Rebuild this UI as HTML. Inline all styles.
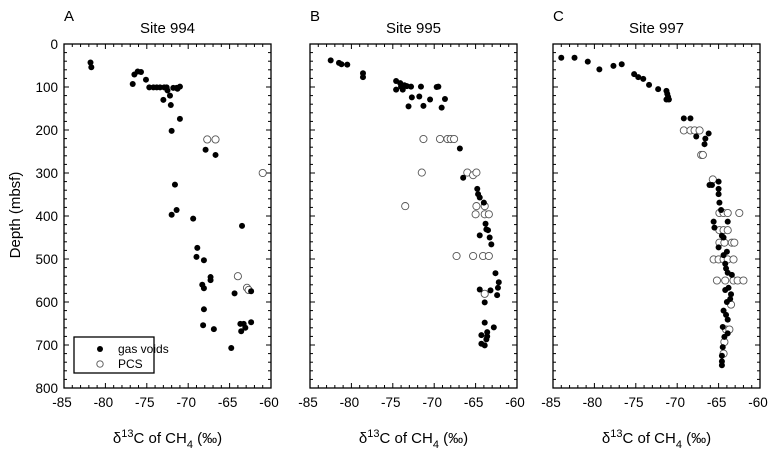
<!DOCTYPE html>
<html><head><meta charset="utf-8"><style>
html,body{margin:0;padding:0;background:#fff;}
svg{display:block;font-family:"Liberation Sans",Arial,sans-serif;}
</style></head><body>
<svg id="chart" width="779" height="456" viewBox="0 0 779 456"></svg>
<script>
const xTicks=[-85,-80,-75,-70,-65,-60];
const yTicks=[0,100,200,300,400,500,600,700,800];
const panelLetters=["A","B","C"];
const siteNames=["Site 994","Site 995","Site 997"];
const gasA=[[-81.8,43],[-81.7,54],[-76.7,93],[-76.5,71],[-76.1,64],[-75.7,65],[-75.1,83],[-74.7,101],[-74.2,101],[-73.8,101],[-73.4,101],[-72.9,101],[-72.6,101],[-73.0,130],[-72.5,108],[-72.2,120],[-72.1,142],[-71.8,102],[-71.4,102],[-71.0,99],[-71.3,104],[-71.0,174],[-72.0,202],[-67.9,246],[-66.7,258],[-71.6,327],[-71.4,386],[-72.0,397],[-69.4,406],[-63.5,423],[-68.9,474],[-69.0,495],[-68.1,503],[-67.3,542],[-67.3,549],[-68.3,560],[-68.1,568],[-64.4,580],[-62.4,575],[-68.1,617],[-68.2,654],[-66.9,663],[-64.8,707],[-63.7,651],[-63.3,651],[-63.1,660],[-63.6,668],[-62.4,647]];
const pcsA=[[-67.7,222],[-66.7,222],[-64.0,540],[-62.9,567],[-62.7,572],[-61.0,300]];
const gasB=[[-82.5,38],[-81.5,44],[-81.2,47],[-80.5,48],[-78.6,68],[-78.6,77],[-74.6,86],[-74.6,106],[-74.1,91],[-74.0,99],[-73.8,106],[-73.6,96],[-73.3,98],[-72.8,99],[-72.7,124],[-73.1,145],[-71.8,122],[-71.6,99],[-71.3,144],[-70.5,129],[-69.7,100],[-69.5,99],[-68.7,128],[-69.1,148],[-66.9,243],[-66.5,311],[-64.8,337],[-64.7,349],[-64.5,357],[-64.0,369],[-64.5,445],[-63.8,418],[-63.7,431],[-63.5,433],[-63.3,450],[-63.1,466],[-62.6,533],[-62.2,554],[-62.3,567],[-62.4,584],[-63.2,573],[-64.5,571],[-63.9,601],[-63.9,648],[-62.8,659],[-63.6,670],[-64.3,677],[-63.6,680],[-63.7,687],[-64.3,697],[-63.9,701]];
const pcsB=[[-71.3,221],[-69.3,221],[-68.4,221],[-68.0,221],[-67.6,221],[-71.5,299],[-66.0,299],[-65.3,305],[-64.9,299],[-73.5,377],[-64.9,377],[-63.9,377],[-65.0,396],[-63.9,396],[-63.4,396],[-67.3,493],[-65.3,493],[-64.1,493],[-63.4,493],[-63.9,581]];
const gasC=[[-84.0,32],[-82.4,32],[-80.8,41],[-79.4,59],[-77.7,51],[-76.7,47],[-75.2,70],[-74.7,77],[-74.1,81],[-73.4,95],[-72.3,105],[-71.3,109],[-71.2,116],[-71.3,129],[-71.0,129],[-71.1,123],[-69.2,173],[-68.4,173],[-67.7,215],[-66.2,208],[-66.6,220],[-66.7,233],[-66.1,328],[-65.8,328],[-65.0,320],[-65.0,337],[-65.0,349],[-64.9,369],[-64.7,386],[-65.6,413],[-65.5,427],[-63.9,413],[-64.6,446],[-64.4,450],[-65.0,473],[-64.4,491],[-64.0,483],[-64.2,511],[-64.1,522],[-63.9,532],[-63.4,537],[-64.2,572],[-63.8,567],[-63.5,582],[-63.6,593],[-64.0,600],[-64.4,620],[-64.1,630],[-63.9,641],[-64.5,658],[-63.9,673],[-64.3,681],[-64.5,705],[-64.6,725],[-64.6,738],[-64.6,747]];
const pcsC=[[-69.2,201],[-68.4,201],[-67.9,201],[-67.3,201],[-67.1,258],[-66.9,258],[-65.7,315],[-64.9,393],[-64.4,393],[-63.9,393],[-62.5,393],[-64.9,433],[-64.4,433],[-63.9,433],[-64.9,462],[-64.3,462],[-63.4,462],[-63.1,462],[-65.6,501],[-65.0,501],[-64.4,501],[-63.9,501],[-63.2,501],[-65.2,550],[-64.2,550],[-63.2,550],[-62.7,550],[-62.0,550],[-63.5,606],[-64.1,664],[-63.7,664],[-64.3,693],[-64.4,720]];
const gasAll=[gasA,gasB,gasC];
const pcsAll=[pcsA,pcsB,pcsC];

const NS="http://www.w3.org/2000/svg";
const svg=document.getElementById("chart");
const lefts=[64,310,553];
const W=207, TOP=44, BOT=388;
function mk(tag,attrs,parent){const e=document.createElementNS(NS,tag);for(const k in attrs)e.setAttribute(k,attrs[k]);(parent||svg).appendChild(e);return e;}
function yScale(d){return TOP+(d-0)/800*(BOT-TOP);}

for(let p=0;p<3;p++){
  const L=lefts[p];
  const xScale=v=>L+(v+85)/25*W;
  const g=mk("g",{});
  
  
  const fr=mk("rect",{x:L,y:TOP,width:W,height:BOT-TOP,fill:"none",stroke:"#000","stroke-width":1.3},g);
  
  
  for(let v=-85;v<=-60;v++){
    const x=xScale(v), len=(v%5===0)?5:3;
    mk("line",{x1:x,y1:BOT,x2:x,y2:BOT-len,stroke:"#000","stroke-width":1},g);
    mk("line",{x1:x,y1:TOP,x2:x,y2:TOP+len,stroke:"#000","stroke-width":1},g);
  }
  for(let d=0;d<=800;d+=20){
    const y=yScale(d), len=(d%100===0)?5:3;
    mk("line",{x1:L,y1:y,x2:L+len,y2:y,stroke:"#000","stroke-width":1},g);
    mk("line",{x1:L+W,y1:y,x2:L+W-len,y2:y,stroke:"#000","stroke-width":1},g);
  }
  xTicks.forEach(v=>{
    const t=mk("text",{x:xScale(v)-2,y:407,"font-size":13.5,"text-anchor":"middle"},g);
    t.textContent=v;
    
    
  });
  if(p===0){
    yTicks.forEach(d=>{
      const t=mk("text",{x:L-6,y:yScale(d)+5,"font-size":13.5,"text-anchor":"end"},g);
      t.textContent=d;
      
      
    });
    const yt=mk("text",{x:0,y:0,"font-size":15,"text-anchor":"middle",transform:"translate(20,215) rotate(-90)"},g);
    yt.textContent="Depth (mbsf)";
    
    
  }
  const letter=mk("text",{x:L,y:21,"font-size":15},g);
  letter.textContent=panelLetters[p];
  
  
  const title=mk("text",{x:L+W/2,y:33,"font-size":15,"text-anchor":"middle"},g);
  title.textContent=siteNames[p];
  
  
  const xt=mk("text",{x:L+W/2,y:443,"font-size":15,"text-anchor":"middle"},g);
  xt.innerHTML='δ<tspan dy="-6" font-size="11">13</tspan><tspan dy="6">C of CH</tspan><tspan dy="5" font-size="11">4</tspan><tspan dy="-5"> (‰)</tspan>';
  
  
  pcsAll[p].forEach(pt=>{
    const c=mk("circle",{cx:xScale(pt[0]),cy:yScale(pt[1]),r:3.6,fill:"#fff",stroke:"#555","stroke-width":0.9},g);
    
    
  });
  gasAll[p].forEach(pt=>{
    const c=mk("circle",{cx:xScale(pt[0]),cy:yScale(pt[1]),r:3,fill:"#000"},g);
    
    
  });
}
const lg=mk("g",{});


mk("rect",{x:74,y:337,width:80,height:36,fill:"#fff",stroke:"#000","stroke-width":1.3},lg);
const l1=mk("circle",{cx:100,cy:349,r:3,fill:"#000"},lg);


const t1=mk("text",{x:118,y:353,"font-size":12},lg);
t1.textContent="gas voids";


const l2=mk("circle",{cx:100,cy:364,r:3.2,fill:"#fff",stroke:"#555","stroke-width":0.9},lg);


const t2=mk("text",{x:118,y:368,"font-size":12},lg);
t2.textContent="PCS";


</script>
</body></html>
